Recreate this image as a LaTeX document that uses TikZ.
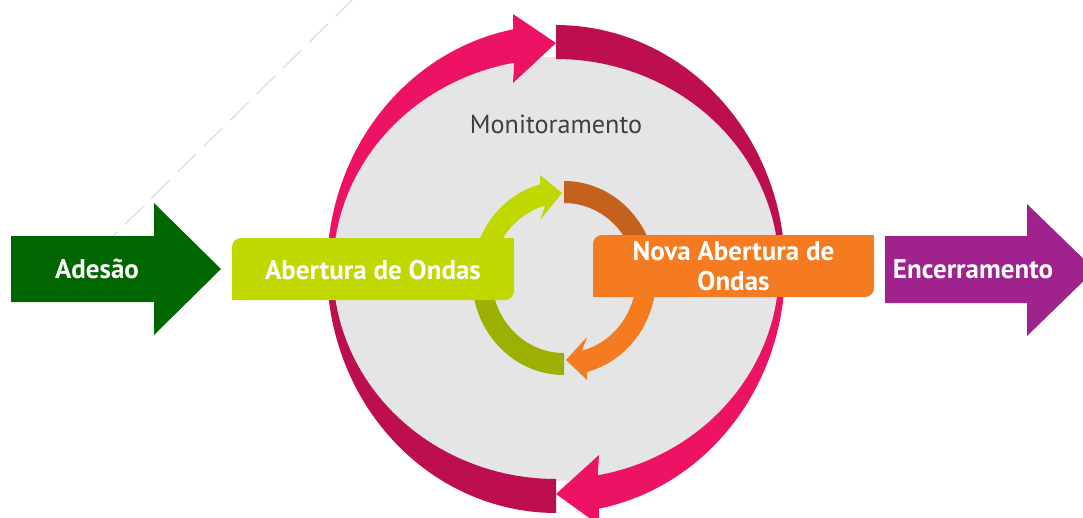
\documentclass[tikz,border=0pt]{standalone}
\usepackage{fontspec}
\setmainfont{PT Sans}
\definecolor{ringpink}{HTML}{EC1264}
\definecolor{ringdark}{HTML}{BD0E50}
\definecolor{diskgray}{HTML}{E5E5E5}
\definecolor{adgreen}{HTML}{006600}
\definecolor{limeg}{HTML}{BFD800}
\definecolor{oliveg}{HTML}{9BB000}
\definecolor{ibrown}{HTML}{C4621D}
\definecolor{orng}{HTML}{F47B20}
\definecolor{purp}{HTML}{A0228D}
\definecolor{txtgray}{HTML}{404040}
\definecolor{dashgray}{HTML}{DADADA}
\tikzset{
  lbl/.style={text=white, font=\fontsize{27}{30}\selectfont\bfseries, inner sep=0pt},
  boxnode/.style={rounded corners=9pt, inner sep=0pt},
  dashline/.style={draw=dashgray, line width=1.1pt, dash pattern=on 26pt off 11pt}
}
\begin{document}
\begin{tikzpicture}[x=1pt,y=-1pt]
\useasboundingbox (0,0) rectangle (1083,517);
\clip (0,0) rectangle (1083,517);
% faint dashed line
\coordinate (d1) at (354,-2);
\coordinate (d2) at (113,236);
\draw[dashline] (d1) -- (d2);
% gray disk
\fill[diskgray] (556,269) ellipse[x radius=225, y radius=212];
% big ring: pink top-left arrow
\fill[ringpink] plot[domain=175:259.2, samples=50] ({556+229*cos(\x)},{269+244*sin(\x)})
  -- (513,14) -- (556,43) -- (513,83)
  -- plot[domain=259.2:175, samples=50] ({556+223*cos(\x)},{269+210*sin(\x)}) -- cycle;
% dark top-right
\fill[ringdark] plot[domain=270:363, samples=50] ({556+229*cos(\x)},{269+244*sin(\x)})
  -- plot[domain=363:270, samples=50] ({556+223*cos(\x)},{269+210*sin(\x)}) -- cycle;
% pink bottom-right arrow
\fill[ringpink] plot[domain=3:79.2, samples=50] ({556+229*cos(\x)},{269+244*sin(\x)})
  -- (599,525) -- (556,494) -- (599,455)
  -- plot[domain=79.2:3, samples=50] ({556+223*cos(\x)},{269+210*sin(\x)}) -- cycle;
% dark bottom-left
\fill[ringdark] plot[domain=90:175, samples=50] ({556+229*cos(\x)},{269+244*sin(\x)})
  -- plot[domain=175:90, samples=50] ({556+223*cos(\x)},{269+210*sin(\x)}) -- cycle;
% inner cycle
\fill[limeg] plot[domain=190:254.9, samples=40] ({564+92*cos(\x)},{278+97*sin(\x)})
  -- (540,175) -- (562,193) -- (540,220)
  -- plot[domain=254.9:190, samples=40] ({564+72*cos(\x)},{278+75*sin(\x)}) -- cycle;
\fill[ibrown] plot[domain=270:355, samples=40] ({564+92*cos(\x)},{278+97*sin(\x)})
  -- plot[domain=355:270, samples=40] ({564+72*cos(\x)},{278+75*sin(\x)}) -- cycle;
\fill[orng] plot[domain=-5:75.5, samples=40] ({564+92*cos(\x)},{278+97*sin(\x)})
  -- (587,380) -- (566,360) -- (587,337)
  -- plot[domain=75.5:-5, samples=40] ({564+72*cos(\x)},{278+75*sin(\x)}) -- cycle;
\fill[oliveg] plot[domain=90:190, samples=40] ({564+92*cos(\x)},{278+97*sin(\x)})
  -- plot[domain=190:90, samples=40] ({564+72*cos(\x)},{278+75*sin(\x)}) -- cycle;
% title
\node[text=txtgray, font=\fontsize{26.2}{30}\selectfont, anchor=base, inner sep=0pt] (mon) at (556,133) {Monitoramento};
% Adesao arrow
\fill[adgreen] (11,236) -- (154,236) -- (154,203) -- (221,269) -- (154,335) -- (154,302) -- (11,302) -- cycle;
\node[lbl, anchor=base] (ades) at (97,278) {Adesão};
% Encerramento arrow
\fill[purp] (885,236) -- (1027,236) -- (1027,204) -- (1095,270) -- (1027,336) -- (1027,303) -- (885,303) -- cycle;
\node[lbl, anchor=base] (enc) at (973,278) {Encerramento};
% boxes
\node[boxnode, fill=limeg, minimum width=282pt, minimum height=62pt] (ab) at (373,269) {};
\fill[limeg] (ab.north east) rectangle ++(-14,14);
\fill[limeg] (ab.south west) rectangle ++(14,-14);
\node[lbl, anchor=base] (abt) at (373,279) {Abertura de Ondas};
\node[boxnode, fill=orng, minimum width=281pt, minimum height=62pt] (nova) at (733.5,266) {};
\fill[orng] (nova.north east) rectangle ++(-14,14);
\fill[orng] (nova.south west) rectangle ++(14,-14);
\node[lbl, align=center, anchor=center] (novat) at (733.5,266) {Nova Abertura de\\Ondas};
\end{tikzpicture}
\end{document}
